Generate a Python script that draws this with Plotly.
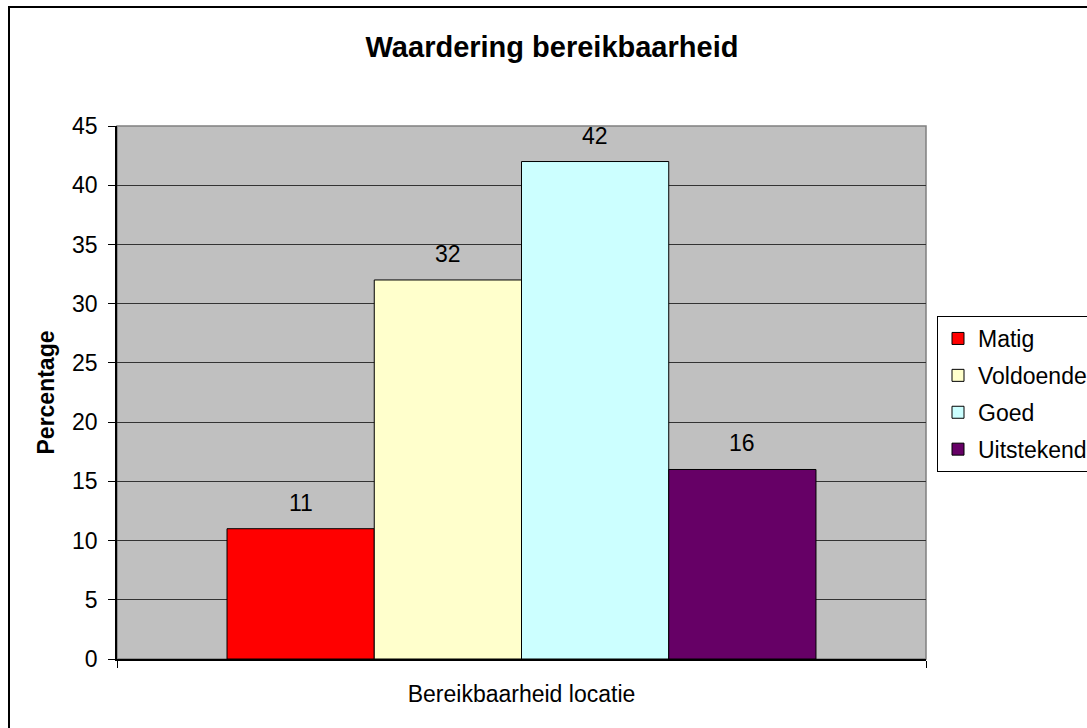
import plotly.graph_objects as go

category = ["Bereikbaarheid locatie"]
series_names = ["Matig", "Voldoende", "Goed", "Uitstekend"]
series_values = [11, 32, 42, 16]
series_colors = ["#FF0000", "#FFFFCC", "#CCFFFF", "#660066"]
y_ticks = [0, 5, 10, 15, 20, 25, 30, 35, 40, 45]

W, H = 1087, 728
ml, mr, mt, mb = 117, 161, 126, 69
bargap = 0.272
FONT = "Liberation Sans, Arial, sans-serif"
FS = 23

fig = go.Figure()
for i, (name, val, col) in enumerate(zip(series_names, series_values, series_colors)):
    fig.add_trace(go.Bar(
        x=category, y=[val], name=name,
        marker=dict(color=col, line=dict(color="#000000", width=1)),
        legendgroup=name,
    ))

# data labels above bars
n = len(series_names)
bw = (1 - bargap) / n
for i, val in enumerate(series_values):
    fig.add_annotation(
        x=(i - (n - 1) / 2) * bw, y=val, xref="x", yref="y",
        text=str(val), showarrow=False, yanchor="bottom", yshift=11,
        font=dict(family=FONT, size=FS, color="#000000"),
    )

pw = W - ml - mr
ph = H - mt - mb
# outer chart border
fig.add_shape(type="rect", xref="paper", yref="paper",
              x0=(9 - ml) / pw, x1=(1200 - ml) / pw,
              y0=-(H + 50 - (H - mb)) / ph, y1=1 + (mt - 7) / ph,
              line=dict(color="#000000", width=2), fillcolor="rgba(0,0,0,0)", layer="below")
# plot area border
fig.add_shape(type="rect", xref="x domain", yref="y domain", x0=0, x1=1, y0=0, y1=1,
              line=dict(color="#808080", width=1.5), fillcolor="rgba(0,0,0,0)", layer="below")

fig.update_layout(
    width=W, height=H,
    margin=dict(l=ml, r=mr, t=mt, b=mb, autoexpand=False),
    paper_bgcolor="#FFFFFF",
    plot_bgcolor="#C0C0C0",
    barmode="group", bargap=bargap, bargroupgap=0,
    font=dict(family=FONT, size=FS, color="#000000"),
    title=dict(text="<b>Waardering bereikbaarheid</b>", x=552 / W, xanchor="center",
               y=1 - 47 / H, yanchor="middle", xref="container", yref="container",
               font=dict(family=FONT, size=29, color="#000000")),
    showlegend=True,
    legend=dict(x=(937 - ml) / pw, xanchor="left", y=1 - (316 - mt) / ph, yanchor="top",
                bgcolor="#FFFFFF", bordercolor="#000000", borderwidth=1,
                font=dict(family=FONT, size=FS, color="#000000"),
                traceorder="grouped", tracegroupgap=4),
    xaxis=dict(
        type="category", showgrid=False, showline=True, linecolor="#000000", linewidth=1.5,
        ticks="outside", tickson="boundaries", ticklen=7, tickcolor="#000000",
        tickfont=dict(family=FONT, size=FS, color="#000000"), ticklabelstandoff=14,
        zeroline=False, automargin=False,
    ),
    yaxis=dict(
        range=[0, 45], tickvals=y_ticks, showgrid=True, gridcolor="#333333", gridwidth=1,
        showline=True, linecolor="#000000", linewidth=1.5,
        ticks="outside", ticklen=7, tickcolor="#000000",
        tickfont=dict(family=FONT, size=FS, color="#000000"), ticklabelstandoff=6,
        zeroline=False, automargin=False,
        title=dict(text="<b>Percentage</b>", font=dict(family=FONT, size=FS, color="#000000"),
                   standoff=11),
    ),
)

fig.write_html("out.html", config={"displayModeBar": False},
               post_script="document.body.style.margin='0';")
